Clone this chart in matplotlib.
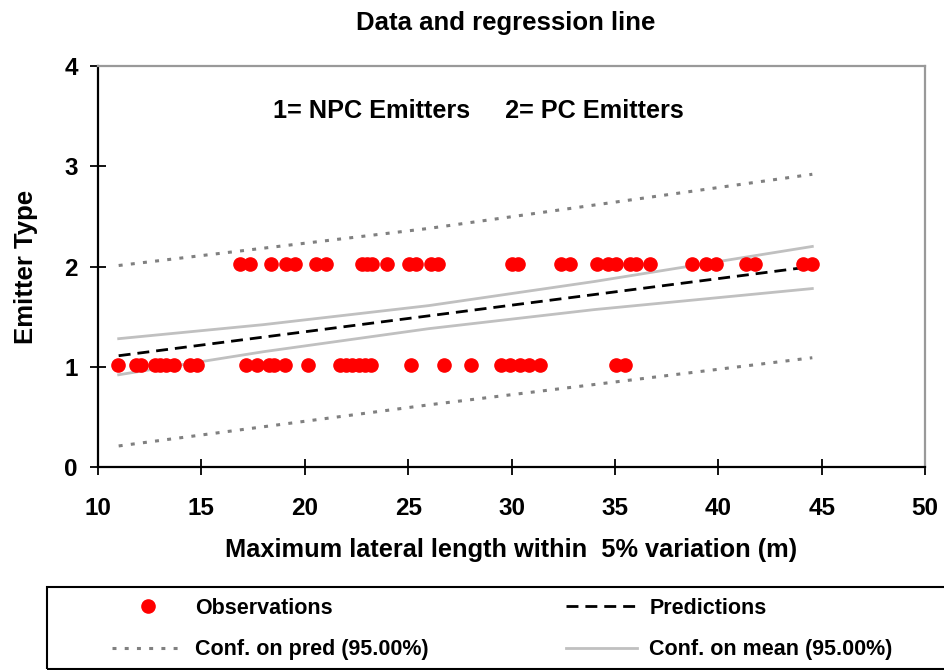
import matplotlib
matplotlib.use("Agg")
import matplotlib.pyplot as plt
from matplotlib.patches import Rectangle

plt.rcParams['font.family'] = ['Liberation Sans', 'DejaVu Sans']
plt.rcParams['font.weight'] = 'bold'
plt.rcParams['axes.labelweight'] = 'bold'

# observations
npc_x = [10.97, 11.82, 12.10, 12.74, 12.98, 13.31, 13.66, 14.44, 14.79,
         17.18, 17.71, 18.27, 18.50, 19.03, 20.16, 21.7, 22.0, 22.3, 22.6,
         22.9, 23.2, 25.12, 26.72, 28.03, 29.51, 29.91, 30.40, 30.85, 31.36,
         35.07, 35.47]
npc_y = [1.02] * len(npc_x)
pc_x = [16.85, 17.37, 18.39, 19.11, 19.51, 20.53, 21.01, 22.75, 23.0, 23.25,
        23.98, 25.04, 25.40, 26.13, 26.44, 30.0, 30.31, 32.41, 32.82, 34.14,
        34.67, 35.07, 35.72, 36.04, 36.68, 38.75, 39.39, 39.88, 41.33, 41.77,
        44.10, 44.55]
pc_y = [2.02] * len(pc_x)

# regression line and bands
line_x = [11.0, 44.55]
pred_y = [1.11, 2.0]
band_x = [11.0, 26.0, 44.55]
pred_hi = [2.01, 2.38, 2.92]
pred_lo = [0.21, 0.62, 1.09]
mean_x = [11.0, 18.0, 26.0, 34.0, 44.55]
mean_hi = [1.28, 1.42, 1.61, 1.85, 2.20]
mean_lo = [0.92, 1.15, 1.38, 1.57, 1.78]

W, H = 944, 670
fig = plt.figure(figsize=(W / 100, H / 100), dpi=100)
ax = fig.add_axes([98 / W, 1 - 467 / H, (925 - 98) / W, (467 - 66) / H])

obs, = ax.plot(npc_x + pc_x, npc_y + pc_y, 'o', color='red', ms=9.5,
               mec='red', zorder=5)
ax.plot(band_x, pred_hi, color='#808080', lw=2.2, ls=(0, (1.3, 2.7)))
cp, = ax.plot(band_x, pred_lo, color='#808080', lw=2.2, ls=(0, (1.3, 2.7)))
ax.plot(mean_x, mean_hi, color='#c0c0c0', lw=2)
cm, = ax.plot(mean_x, mean_lo, color='#c0c0c0', lw=2)
pr, = ax.plot(line_x, pred_y, color='black', lw=2, ls=(0, (4.3, 2.5)))

ax.set_xlim(10, 50)
ax.set_ylim(0, 4)
ax.set_xticks(range(10, 51, 5))
ax.set_yticks(range(0, 5))
ax.tick_params(direction='inout', length=11, width=1.3, labelsize=17.5,
               color='black')
ax.tick_params(axis='x', pad=16)
ax.tick_params(axis='y', pad=9)
for side in ['left', 'bottom']:
    ax.spines[side].set_linewidth(1.6)
    ax.spines[side].set_color('black')
for side in ['top', 'right']:
    ax.spines[side].set_linewidth(1.6)
    ax.spines[side].set_color('#999999')

ax.set_xlabel('Maximum lateral length within  5% variation (m)', fontsize=18.3,
              labelpad=13)
ax.set_ylabel('Emitter Type', fontsize=18.5, labelpad=19)
fig.text(506 / W, 1 - 23 / H, 'Data and regression line', fontsize=18.5,
         ha='center', va='center')
ax.text(273 / W, 1 - 111 / H, '1= NPC Emitters     2= PC Emitters',
        fontsize=18.2, ha='left', va='center', transform=fig.transFigure)

fig.patches.append(Rectangle((47 / W, 1 - 669 / H), (960 - 47) / W,
                             (669 - 587) / H, transform=fig.transFigure,
                             fill=False, edgecolor='black', lw=1.5))
fig.legend([obs, cp, pr, cm],
           ['Observations', 'Conf. on pred (95.00%)', 'Predictions',
            'Conf. on mean (95.00%)'],
           loc='upper left', bbox_to_anchor=(112 / W, 1 - 598 / H),
           ncol=2, frameon=False, fontsize=15.5, numpoints=1,
           handlelength=3.3, handletextpad=0.55, columnspacing=6.4,
           borderpad=0, borderaxespad=0, labelspacing=0.95)

fig.savefig('out.png', dpi=100)
